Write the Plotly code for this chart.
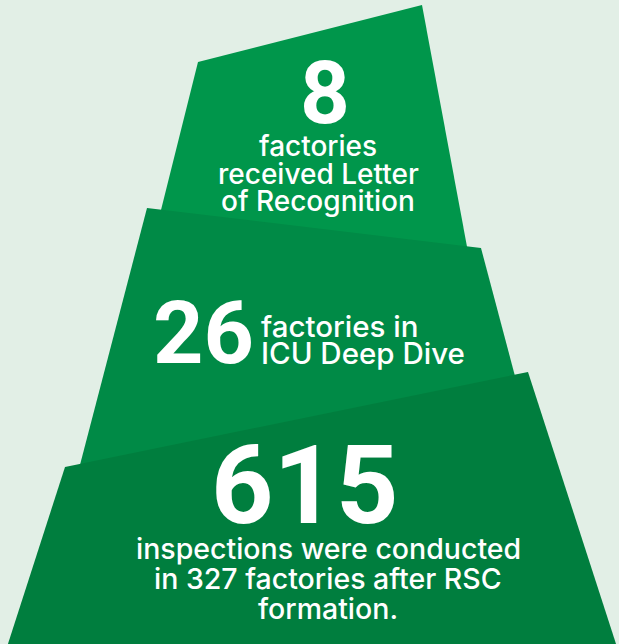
import plotly.graph_objects as go

# ---- data ----
stat_values = [8, 26, 615]
stat_captions = [
    ["factories", "received Letter", "of Recognition"],
    ["factories in", "ICU Deep Dive"],
    ["inspections were conducted", "in 327 factories after RSC", "formation."],
]

# ---- geometry (layout, in pixel-like axis units, y downward) ----
tier_polys = [
    ([198, 422, 468, 158], [62, 5, 252, 222]),
    ([147, 481, 520, 75], [208, 248, 395, 484]),
    ([65, 528, 618, 6], [467, 372, 650, 650]),
]
tier_colors = ["#00964b", "#008a46", "#007e3e"]
bg = "#e2efe6"
NUM_FONT = "Roboto"
TXT_FONT = "Inter"

fig = go.Figure()
for (xs, ys), col in zip(tier_polys, tier_colors):
    fig.add_trace(go.Scatter(x=xs + [xs[0]], y=ys + [ys[0]], mode="lines",
                             fill="toself", fillcolor=col,
                             line=dict(width=0, color=col),
                             hoverinfo="skip", showlegend=False))

ann = []
def add(text, x, y, size, family, weight=400, xanchor="center"):
    ann.append(dict(text=text, x=x, y=y, xref="x", yref="y", showarrow=False,
                    xanchor=xanchor, yanchor="middle",
                    font=dict(family=family, size=size, color="white", weight=weight)))

# tier 1
add(str(stat_values[0]), 325, 93, 87, NUM_FONT, 700)
for i, line in enumerate(stat_captions[0]):
    add(line, 318, 146 + i * 27.5, 28, TXT_FONT, 500)
# tier 2
add(str(stat_values[1]), 203, 332, 88, NUM_FONT, 700)
for i, line in enumerate(stat_captions[1]):
    add(line, 259, 326 + i * 27, 29.5, TXT_FONT, 500, xanchor="left")
# tier 3
add(str(stat_values[2]), 305, 486, 109, NUM_FONT, 700)
for i, line in enumerate(stat_captions[2]):
    add(line, 328, 548 + i * 30, 28.5, TXT_FONT, 500)

fig.update_layout(
    width=619, height=644, margin=dict(l=0, r=0, t=0, b=0),
    paper_bgcolor=bg, plot_bgcolor=bg, annotations=ann,
    xaxis=dict(range=[0, 619], visible=False, fixedrange=True),
    yaxis=dict(range=[644, 0], visible=False, fixedrange=True),
)
fig.write_html("out.html", config={"displayModeBar": False},
               post_script="document.body.style.margin='0';document.body.style.padding='0';"
                           "document.body.style.background='" + bg + "';")
